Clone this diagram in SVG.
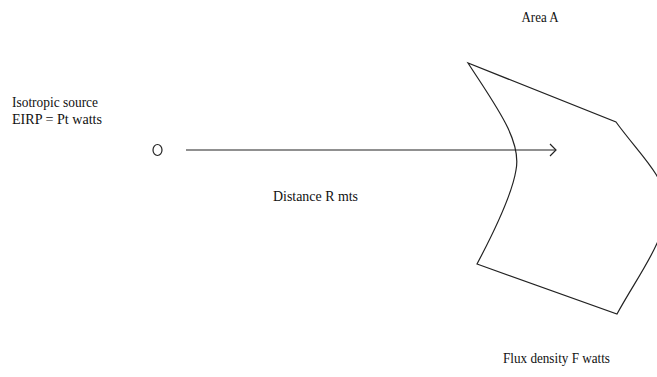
<svg xmlns="http://www.w3.org/2000/svg" width="657" height="377" viewBox="0 0 657 377">
<style>
.t{font-family:"Liberation Serif","Times New Roman",serif;font-size:15px;fill:#111}
.ln{fill:none;stroke:#222;stroke-width:1.2}
</style>
<rect width="657" height="377" fill="#fff"/>
<g id="source">
<ellipse cx="157.5" cy="150" rx="4.5" ry="5.5" class="ln"/>
<text class="t" x="12" y="107" textLength="86" lengthAdjust="spacingAndGlyphs">Isotropic source</text>
<text class="t" x="12" y="124" textLength="90" lengthAdjust="spacingAndGlyphs">EIRP = Pt watts</text>
</g>
<g id="area">
<path class="ln" d="M468,63 C495,105 522,140 516,170 C512,195 495,230 477,264 L617,314 C640,272 668,238 666,203 C664,175 640,155 616,122 Z"/>
<text class="t" x="540" y="22" text-anchor="middle" textLength="37" lengthAdjust="spacingAndGlyphs">Area A</text>
<text class="t" x="503" y="363" textLength="107" lengthAdjust="spacingAndGlyphs">Flux density F watts</text>
</g>
<g id="connectors">
<line class="ln" x1="186" y1="150" x2="556" y2="150"/>
<polyline class="ln" points="550,144 556,150 550,156"/>
<text class="t" x="273" y="201" textLength="85" lengthAdjust="spacingAndGlyphs">Distance R mts</text>
</g>
</svg>
